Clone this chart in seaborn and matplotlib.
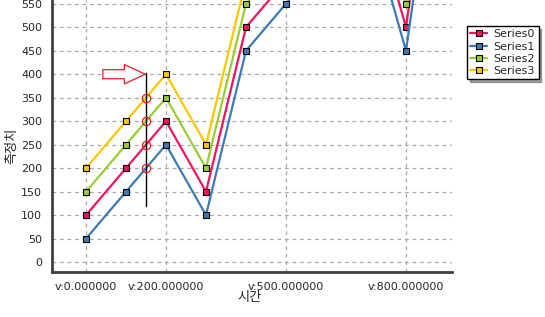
import numpy as np
import pandas as pd
import matplotlib
matplotlib.use("Agg")
import matplotlib.pyplot as plt
import seaborn as sns
from matplotlib.patches import FancyArrowPatch
from matplotlib.lines import Line2D

# ---- data ----
x_vals = [0, 100, 200, 300, 400, 500, 600, 700, 800, 900]
series0 = [100, 200, 300, 150, 500, 600, 700, 800, 500, 1100]
series1 = [50, 150, 250, 100, 450, 550, 650, 750, 450, 1050]
series2 = [150, 250, 350, 200, 550, 650, 750, 850, 550, 1150]
series3 = [200, 300, 400, 250, 600, 700, 800, 900, 600, 1200]
series_names = ["Series0", "Series1", "Series2", "Series3"]
colors = ["#f0145a", "#3d7ab5", "#9acd32", "#f8c800"]
major_ticks = [0, 200, 500, 800]
major_labels = ["v:0.000000", "v:200.000000", "v:500.000000", "v:800.000000"]
minor_ticks = [-48, 52, 100, 150, 277, 350, 422, 572, 650, 725, 847, 897]
y_ticks = list(range(0, 551, 50))
cursor_x = 150
x_label = "시간"
y_label = "측정치"

rows = []
for name, vals in zip(series_names, [series0, series1, series2, series3]):
    for xv, yv in zip(x_vals, vals):
        rows.append({"x": xv, "y": yv, "series": name})
df = pd.DataFrame(rows)

sns.set_style("white")
plt.rcParams['font.family'] = ['DejaVu Sans', 'Noto Sans CJK KR']

fig = plt.figure(figsize=(5.45, 3.17), dpi=100)
ax = fig.add_axes([52/545, 1 - 272/317, 400/545, 272/317])

sns.lineplot(data=df, x="x", y="y", hue="series", palette=colors, marker="s",
             markersize=4.5, markeredgecolor="black", markeredgewidth=0.8,
             linewidth=1.6, ax=ax, legend=False, sort=False, zorder=3)

ax.set_xlim(-85, 915)
ax.set_ylim(-21, 558)

ax.set_xticks(major_ticks)
ax.set_xticklabels(major_labels, fontsize=8)
ax.set_xticks(minor_ticks, minor=True)
ax.set_yticks(y_ticks)
ax.set_yticklabels([str(v) for v in y_ticks], fontsize=8)

ax.grid(True, which="major", linestyle=(0, (3, 3)), color="#a8a8a8", linewidth=0.9)
ax.set_axisbelow(True)
for s in ["top", "right"]:
    ax.spines[s].set_visible(False)
for s in ["left", "bottom"]:
    ax.spines[s].set_color("#404040")
    ax.spines[s].set_linewidth(2)
ax.tick_params(axis="x", which="both", direction="out", length=4, width=1, color="#404040", pad=3)
ax.tick_params(axis="y", which="major", direction="out", length=3, width=1, color="#404040", pad=4)

ax.set_xlabel(x_label, fontsize=9.5, family=['Noto Sans CJK KR', 'DejaVu Sans'])
ax.set_ylabel(y_label, fontsize=9.5, family=['Noto Sans CJK KR', 'DejaVu Sans'])
ax.xaxis.set_label_coords(0.495, (272 - 298) / 272)
ax.xaxis.label.set_va("center")
ax.yaxis.set_label_coords((12 - 52) / 400, (272 - 146) / 272)
ax.yaxis.label.set_va("center")

# cursor annotation
ax.plot([cursor_x, cursor_x], [120, 402], color="black", linewidth=1, zorder=4)
for vals in [series0, series1, series2, series3]:
    yi = np.interp(cursor_x, x_vals, vals)
    ax.plot([cursor_x], [yi], marker="o", markersize=6, markerfacecolor="none",
            markeredgecolor="#e02020", markeredgewidth=0.9, zorder=5)
arr = FancyArrowPatch((42, 400), (148, 400),
                      arrowstyle="simple,head_length=15,head_width=14,tail_width=6.5",
                      mutation_scale=1, shrinkA=0, shrinkB=0,
                      facecolor="white", edgecolor="#e02020", linewidth=0.9, zorder=5)
ax.add_patch(arr)

# legend
handles = [Line2D([0], [0], color=c, linewidth=1.6, marker="s", markersize=4.5,
                  markeredgecolor="black", markeredgewidth=0.8) for c in colors]
leg = fig.legend(handles, series_names, loc="upper left",
                 bbox_to_anchor=(467/545, 1 - 26/317), fontsize=8,
                 fancybox=False, shadow=True, frameon=True, edgecolor="black",
                 handlelength=1.5, handletextpad=0.6, borderpad=0.3,
                 labelspacing=0.2, borderaxespad=0)
leg.get_frame().set_linewidth(1)

fig.savefig("out.png", dpi=100)
